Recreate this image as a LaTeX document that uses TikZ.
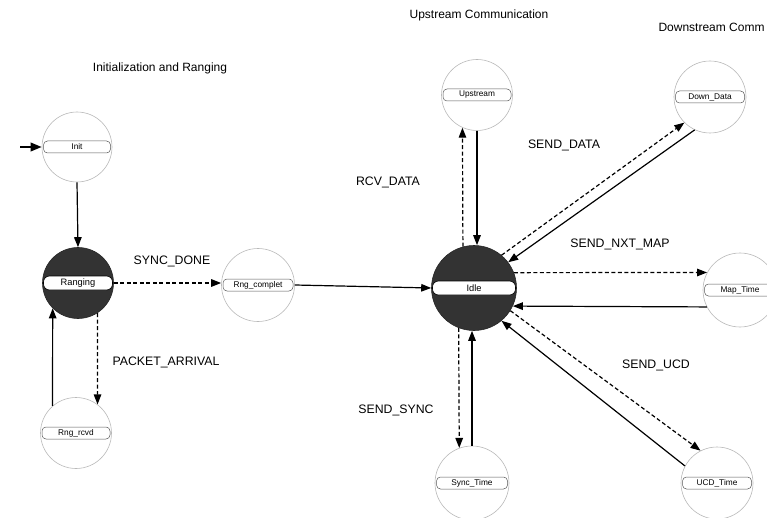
\documentclass[tikz,border=0pt]{standalone}
\usepackage{fontspec}
\setmainfont{Liberation Sans}
\usetikzlibrary{arrows.meta,calc}

\tikzset{
  lightcircle/.style={circle, draw=gray!55, line width=0.6pt, fill=white, inner sep=0pt},
  darkcircle/.style={circle, draw=black!85, line width=0.6pt, fill=black!80, inner sep=0pt},
  band/.style={rectangle, rounded corners=4pt, draw=black!65, line width=0.5pt, fill=white,
    inner sep=0pt, minimum height=12pt, font=\fontsize{8.3}{9}\selectfont},
  darkband/.style={rectangle, rounded corners=6pt, draw=black, line width=0.6pt, fill=white,
    inner sep=0pt, minimum height=14pt, font=\fontsize{9.3}{10}\selectfont},
  tr/.style={line width=1.2pt, -{Triangle[length=10pt,width=7.5pt]}},
  dtr/.style={tr, dash pattern=on 4pt off 2.5pt},
  evlabel/.style={font=\fontsize{12.3}{14}\selectfont},
  title/.style={font=\fontsize{12}{14}\selectfont}
}

% a state: circle plus the label band across its middle
\newcommand{\lightstate}[5]{% name, x, y, diameter, label
  \node[lightcircle, minimum size=#4pt] (#1) at (#2,#3) {};
  \node[band, minimum width=#4pt-3pt] (#1-label) at (#1.center) {#5};
}
\newcommand{\darkstate}[5]{%
  \node[darkcircle, minimum size=#4pt] (#1) at (#2,#3) {};
  \node[darkband, minimum width=#4pt-2pt] (#1-label) at (#1.center) {#5};
}

\begin{document}
\begin{tikzpicture}[x=1pt,y=-1pt]
  \useasboundingbox (0,0) rectangle (767,518);
  \clip (0,0) rectangle (767,518);

  % group titles
  \node[title] (t-init) at (160,68) {Initialization and Ranging};
  \node[title] (t-up) at (479,15) {Upstream Communication};
  \node[title, anchor=west] (t-down) at (655,27) {Downstream Comm};

  % states
  \lightstate{Init}{77}{147}{70}{Init}
  \darkstate{Ranging}{78}{283}{71}{Ranging}
  \lightstate{Rngrcvd}{76}{433}{71}{Rng\_rcvd}
  \lightstate{Rngcomplet}{258}{285}{73}{Rng\_complet}
  \darkstate{Idle}{474}{288}{85}{Idle}
  \lightstate{Upstream}{477}{95}{71}{Upstream}
  \lightstate{DownData}{710}{97}{72}{Down\_Data}
  \lightstate{MapTime}{740}{290}{74}{Map\_Time}
  \lightstate{SyncTime}{472}{483}{74}{Sync\_Time}
  \lightstate{UCDTime}{717}{483}{72}{UCD\_Time}

  % entry arrow
  \coordinate (start) at (20,147);
  \draw[line width=2pt, -{Triangle[length=11pt,width=8.5pt]}] (start) -- (Init.west);

  % initialization and ranging
  \draw[tr] (Init.south) -- (Ranging.north);
  \draw[dtr] (Ranging.east) -- (Ranging.east -| Rngcomplet.west);
  \draw[dtr] (Ranging.-57) -- (Rngrcvd.53);
  \draw[tr] (Rngrcvd.131) -- (Ranging.-135);
  \draw[tr] (Rngcomplet.east) -- (Idle.west);

  % upstream
  \draw[dtr] (Idle.105) -- (Upstream.246);
  \draw[tr] (Upstream.south) -- (Upstream.south |- Idle.north);

  % downstream
  \draw[dtr] (Idle.50) -- (DownData.225);
  \draw[tr] (DownData.245) -- (Idle.37);
  \draw[dtr] (Idle.21) -- (MapTime.152);
  \draw[tr] (MapTime.207) -- (Idle.-25);
  \draw[dtr] (Idle.-32) -- (UCDTime.117);
  \draw[tr] (UCDTime.152) -- (Idle.-50);
  \draw[dtr] (Idle.249) -- (SyncTime.110);
  \draw[tr] (SyncTime.north) -- (SyncTime.north |- Idle.south);

  % event labels
  \node[evlabel] (l-sync) at (172,261) {SYNC\_DONE};
  \node[evlabel] (l-packet) at (166,362) {PACKET\_ARRIVAL};
  \node[evlabel] (l-rcv) at (388,182) {RCV\_DATA};
  \node[evlabel] (l-send) at (564,145) {SEND\_DATA};
  \node[evlabel] (l-map) at (620,244) {SEND\_NXT\_MAP};
  \node[evlabel] (l-ucd) at (656,365) {SEND\_UCD};
  \node[evlabel] (l-syncsend) at (396,410) {SEND\_SYNC};
\end{tikzpicture}
\end{document}
